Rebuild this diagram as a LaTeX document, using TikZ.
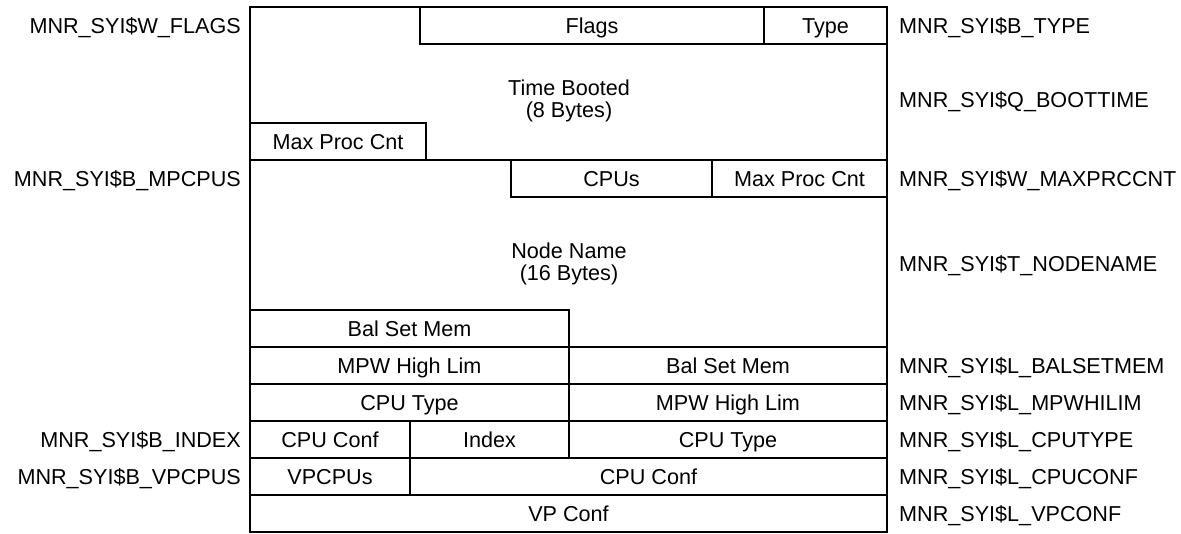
\documentclass[tikz,border=0pt]{standalone}
\usepackage{fontspec}
\setmainfont{Liberation Sans}
\usepackage{tikz}
\usetikzlibrary{positioning}

\begin{document}
\begin{tikzpicture}[x=1pt,y=-1pt,
  every node/.style={font=\fontsize{21.6}{21.5}\selectfont},
  field/.style={draw,line width=1.6pt,inner sep=0pt,outer sep=0pt,anchor=north west,
    minimum height=37,text height=15.4pt,text depth=0pt},
  sym/.style={inner sep=0pt,text height=15.4pt,text depth=0pt}]

  \useasboundingbox (0,0) rectangle (1181,534);

  \node[field,minimum width=637,minimum height=525] (frame) at (250,7) {};

  \node[field,minimum width=344] (flags) at (420,7) {Flags};
  \node[field,minimum width=123] (type) at (764,7) {Type};
  \node[align=center] (boottime) at (569,101) {Time Booted\\(8 Bytes)};
  \node[field,minimum width=176] (maxproc1) at (250,123) {Max Proc Cnt};
  \draw[line width=1.6pt] (maxproc1.south west) -- (maxproc1.south west -| frame.east);
  \node[field,minimum width=201] (cpus) at (511,160) {CPUs};
  \node[field,minimum width=175] (maxproc2) at (712,160) {Max Proc Cnt};
  \node[align=center] (nodename) at (569,264) {Node Name\\(16 Bytes)};

  \node[field,minimum width=319] (balset1) at (250,310) {Bal Set Mem};
  \node[field,minimum width=319] (mpw1) at (250,347) {MPW High Lim};
  \node[field,minimum width=318] (balset2) at (569,347) {Bal Set Mem};
  \node[field,minimum width=319] (cputype1) at (250,384) {CPU Type};
  \node[field,minimum width=318] (mpw2) at (569,384) {MPW High Lim};
  \node[field,minimum width=160] (cpuconf1) at (250,421) {CPU Conf};
  \node[field,minimum width=159] (index) at (410,421) {Index};
  \node[field,minimum width=318] (cputype2) at (569,421) {CPU Type};
  \node[field,minimum width=160] (vpcpus) at (250,458) {VPCPUs};
  \node[field,minimum width=477] (cpuconf2) at (410,458) {CPU Conf};
  \node[field,minimum width=637] (vpconf) at (250,495) {VP Conf};

  \node[sym,anchor=east] (wflags) at (241,25.5) {MNR\_SYI\$W\_FLAGS};
  \node[sym,anchor=east] (bmpcpus) at (241,178.5) {MNR\_SYI\$B\_MPCPUS};
  \node[sym,left=9pt of cpuconf1] (bindex) {MNR\_SYI\$B\_INDEX};
  \node[sym,left=9pt of vpcpus] (bvpcpus) {MNR\_SYI\$B\_VPCPUS};

  \node[sym,right=12pt of type] (btype) {MNR\_SYI\$B\_TYPE};
  \node[sym,anchor=west] (qboottime) at (899,100) {MNR\_SYI\$Q\_BOOTTIME};
  \node[sym,right=12pt of maxproc2] (wmaxprccnt) {MNR\_SYI\$W\_MAXPRCCNT};
  \node[sym,anchor=west] (tnodename) at (899,264) {MNR\_SYI\$T\_NODENAME};
  \node[sym,right=12pt of balset2] (lbalsetmem) {MNR\_SYI\$L\_BALSETMEM};
  \node[sym,right=12pt of mpw2] (lmpwhilim) {MNR\_SYI\$L\_MPWHILIM};
  \node[sym,right=12pt of cputype2] (lcputype) {MNR\_SYI\$L\_CPUTYPE};
  \node[sym,right=12pt of cpuconf2] (lcpuconf) {MNR\_SYI\$L\_CPUCONF};
  \node[sym,right=12pt of vpconf] (lvpconf) {MNR\_SYI\$L\_VPCONF};

\end{tikzpicture}
\end{document}
